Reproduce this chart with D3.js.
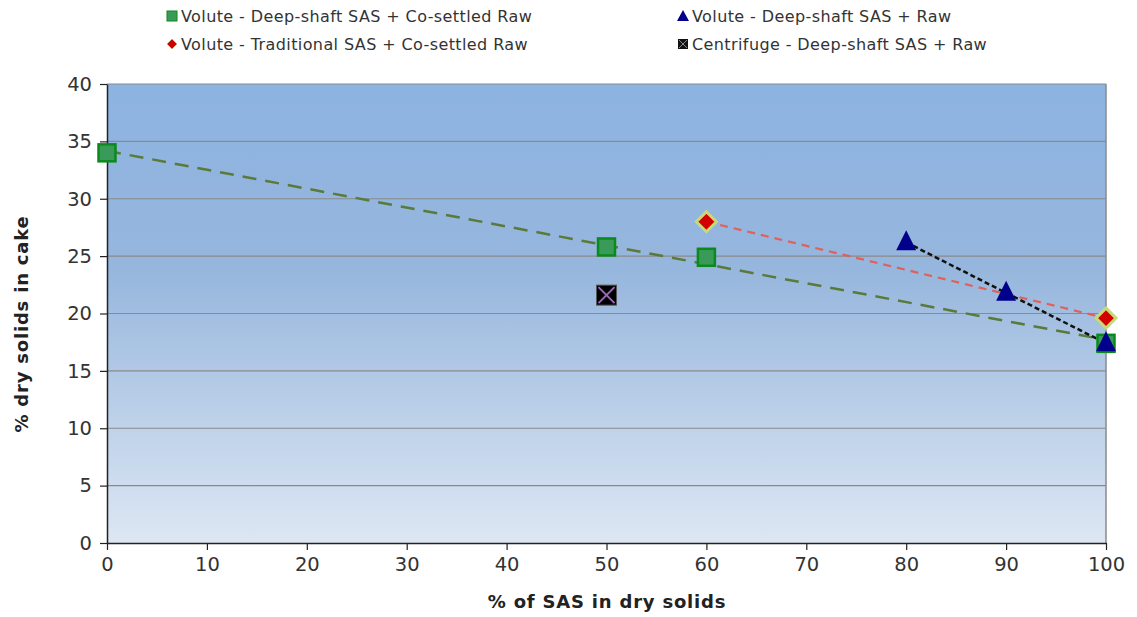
<!DOCTYPE html>
<html>
<head>
<meta charset="utf-8">
<script src="https://cdn.jsdelivr.net/npm/d3@7"></script>
<style>
  body { margin: 0; background: #fff; }
  svg text { font-family: "DejaVu Sans", sans-serif; }
</style>
</head>
<body>
<svg id="chart" width="1137" height="617"></svg>
<script>
// Series data: % of SAS in dry solids vs % dry solids in cake
const deepShaftCoSettledX = [0, 50, 60, 100];
const deepShaftCoSettledY = [34, 25.8, 24.9, 17.4];
const traditionalCoSettledX = [60, 100];
const traditionalCoSettledY = [28, 19.6];
const deepShaftRawX = [80, 90, 100];
const deepShaftRawY = [26.2, 21.8, 17.4];
const centrifugeX = [50];
const centrifugeY = [21.6];

const xTicks = [0, 10, 20, 30, 40, 50, 60, 70, 80, 90, 100];
const yTicks = [0, 5, 10, 15, 20, 25, 30, 35, 40];

const legendLabels = [
  "Volute - Deep-shaft SAS + Co-settled Raw",
  "Volute - Traditional SAS + Co-settled Raw",
  "Volute - Deep-shaft SAS + Raw",
  "Centrifuge - Deep-shaft SAS + Raw"
];

const svg = d3.select("#chart");
const plot = { left: 107, right: 1106, top: 84, bottom: 543 };

const x = d3.scaleLinear().domain([0, 100]).range([plot.left, plot.right]);
const y = d3.scaleLinear().domain([0, 40]).range([plot.bottom, plot.top]);

// plot area gradient
const defs = svg.append("defs");
const grad = defs.append("linearGradient").attr("id", "bg")
  .attr("x1", 0).attr("y1", 0).attr("x2", 0).attr("y2", 1);
grad.append("stop").attr("offset", "0%").attr("stop-color", "#8db3e2");
grad.append("stop").attr("offset", "40%").attr("stop-color", "#96b6dd");
grad.append("stop").attr("offset", "100%").attr("stop-color", "#dde7f3");

svg.append("rect")
  .attr("x", plot.left).attr("y", plot.top)
  .attr("width", plot.right - plot.left).attr("height", plot.bottom - plot.top)
  .attr("fill", "url(#bg)");

// horizontal gridlines
svg.append("g").selectAll("line").data(yTicks.filter(d => d > 0)).join("line")
  .attr("x1", plot.left).attr("x2", plot.right)
  .attr("y1", d => y(d)).attr("y2", d => y(d))
  .attr("stroke", "#8a8a8a").attr("stroke-width", 1.2);

// right border
svg.append("line")
  .attr("x1", plot.right).attr("x2", plot.right)
  .attr("y1", plot.top).attr("y2", plot.bottom)
  .attr("stroke", "#8a8a8a").attr("stroke-width", 1.5);

// axes
const xAxis = svg.append("g").attr("transform", `translate(0,${plot.bottom})`)
  .call(d3.axisBottom(x).tickValues(xTicks).tickSize(7).tickPadding(7).tickSizeOuter(0));
const yAxis = svg.append("g").attr("transform", `translate(${plot.left},0)`)
  .call(d3.axisLeft(y).tickValues(yTicks).tickSize(7).tickPadding(8).tickSizeOuter(0));
[xAxis, yAxis].forEach(a => {
  a.select(".domain").attr("stroke", "#222").attr("stroke-width", 1.5);
  a.selectAll(".tick line").attr("stroke", "#222").attr("stroke-width", 1.2);
  a.selectAll(".tick text").attr("fill", "#333").style("font-size", "19.5px")
    .style("font-family", "DejaVu Sans");
});

// linear trendline from a series (least squares)
function trend(xs, ys) {
  const mx = d3.mean(xs), my = d3.mean(ys);
  const sxy = d3.sum(xs, (v, i) => (v - mx) * (ys[i] - my));
  const sxx = d3.sum(xs, v => (v - mx) * (v - mx));
  const b = sxy / sxx, a = my - b * mx;
  const x0 = d3.min(xs), x1 = d3.max(xs);
  return [[x0, a + b * x0], [x1, a + b * x1]];
}
const line = d3.line().x(d => x(d[0])).y(d => y(d[1]));

svg.append("path").attr("d", line(trend(deepShaftCoSettledX, deepShaftCoSettledY)))
  .attr("fill", "none").attr("stroke", "#5a7a3a").attr("stroke-width", 2.5)
  .attr("stroke-dasharray", "14,9");
svg.append("path").attr("d", line(trend(traditionalCoSettledX, traditionalCoSettledY)))
  .attr("fill", "none").attr("stroke", "#e0605a").attr("stroke-width", 2.2)
  .attr("stroke-dasharray", "8,6");
svg.append("path").attr("d", line(trend(deepShaftRawX, deepShaftRawY)))
  .attr("fill", "none").attr("stroke", "#111").attr("stroke-width", 2.5)
  .attr("stroke-dasharray", "5,3");

// markers
function squareMarker(g, cx, cy, s) {
  g.append("rect").attr("x", cx - s / 2).attr("y", cy - s / 2)
    .attr("width", s).attr("height", s)
    .attr("fill", "#3a9a5a").attr("stroke", "#0a8a1a").attr("stroke-width", 2.5);
}
function diamondMarker(g, cx, cy, r) {
  g.append("path").attr("d", `M${cx},${cy - r}L${cx + r},${cy}L${cx},${cy + r}L${cx - r},${cy}Z`)
    .attr("fill", "#d40000").attr("stroke", "#c8d87a").attr("stroke-width", 3);
}
function triangleMarker(g, cx, cy, s) {
  g.append("path").attr("d", `M${cx},${cy - s * 0.6}L${cx + s / 2},${cy + s * 0.4}L${cx - s / 2},${cy + s * 0.4}Z`)
    .attr("fill", "#00008b");
}
function crossMarker(g, cx, cy, s) {
  g.append("rect").attr("x", cx - s / 2).attr("y", cy - s / 2)
    .attr("width", s).attr("height", s).attr("fill", "#000")
    .attr("stroke", "#555").attr("stroke-width", 1);
  const h = s / 2 - 2;
  g.append("path").attr("d", `M${cx - h},${cy - h}L${cx + h},${cy + h}M${cx + h},${cy - h}L${cx - h},${cy + h}`)
    .attr("stroke", "#9a6ab8").attr("stroke-width", 2);
}

const marks = svg.append("g");
deepShaftCoSettledX.forEach((v, i) => squareMarker(marks, x(v), y(deepShaftCoSettledY[i]), 17));
traditionalCoSettledX.forEach((v, i) => diamondMarker(marks, x(v), y(traditionalCoSettledY[i]), 10));
deepShaftRawX.forEach((v, i) => triangleMarker(marks, x(v), y(deepShaftRawY[i]), 20));
centrifugeX.forEach((v, i) => crossMarker(marks, x(v), y(centrifugeY[i]), 20));

// axis titles
svg.append("text").attr("x", 607).attr("y", 608)
  .attr("text-anchor", "middle").attr("font-weight", "bold").attr("fill", "#222")
  .style("font-size", "18px").style("letter-spacing", "0.8px").text("% of SAS in dry solids");
svg.append("text").attr("transform", "translate(28,324) rotate(-90)")
  .attr("text-anchor", "middle").attr("font-weight", "bold").attr("fill", "#222")
  .style("font-size", "18px").style("letter-spacing", "0.8px").text("% dry solids in cake");

// legend
const legendPos = [[172, 16], [172, 44], [683, 16], [683, 44]];
const legendDraw = [
  (g, cx, cy) => g.append("rect").attr("x", cx - 5).attr("y", cy - 5).attr("width", 10).attr("height", 10)
      .attr("fill", "#3a9a5a").attr("stroke", "#0a8a1a").attr("stroke-width", 1),
  (g, cx, cy) => g.append("path").attr("d", `M${cx},${cy - 5}L${cx + 5},${cy}L${cx},${cy + 5}L${cx - 5},${cy}Z`)
      .attr("fill", "#d40000").attr("stroke", "#c8a87a").attr("stroke-width", 1),
  (g, cx, cy) => g.append("path").attr("d", `M${cx},${cy - 6}L${cx + 6},${cy + 5}L${cx - 6},${cy + 5}Z`).attr("fill", "#00008b"),
  (g, cx, cy) => {
    g.append("rect").attr("x", cx - 5).attr("y", cy - 5).attr("width", 10).attr("height", 10).attr("fill", "#111");
    g.append("path").attr("d", `M${cx - 4},${cy - 4}L${cx + 4},${cy + 4}M${cx + 4},${cy - 4}L${cx - 4},${cy + 4}`)
      .attr("stroke", "#888").attr("stroke-width", 1);
  }
];
const legend = svg.append("g");
legendLabels.forEach((label, i) => {
  const [lx, ly] = legendPos[i];
  legendDraw[i](legend, lx, ly);
  legend.append("text").attr("x", lx + 9).attr("y", ly + 6)
    .attr("fill", "#333").style("font-size", "16px").style("letter-spacing", "0.4px").text(label);
});
</script>
</body>
</html>
